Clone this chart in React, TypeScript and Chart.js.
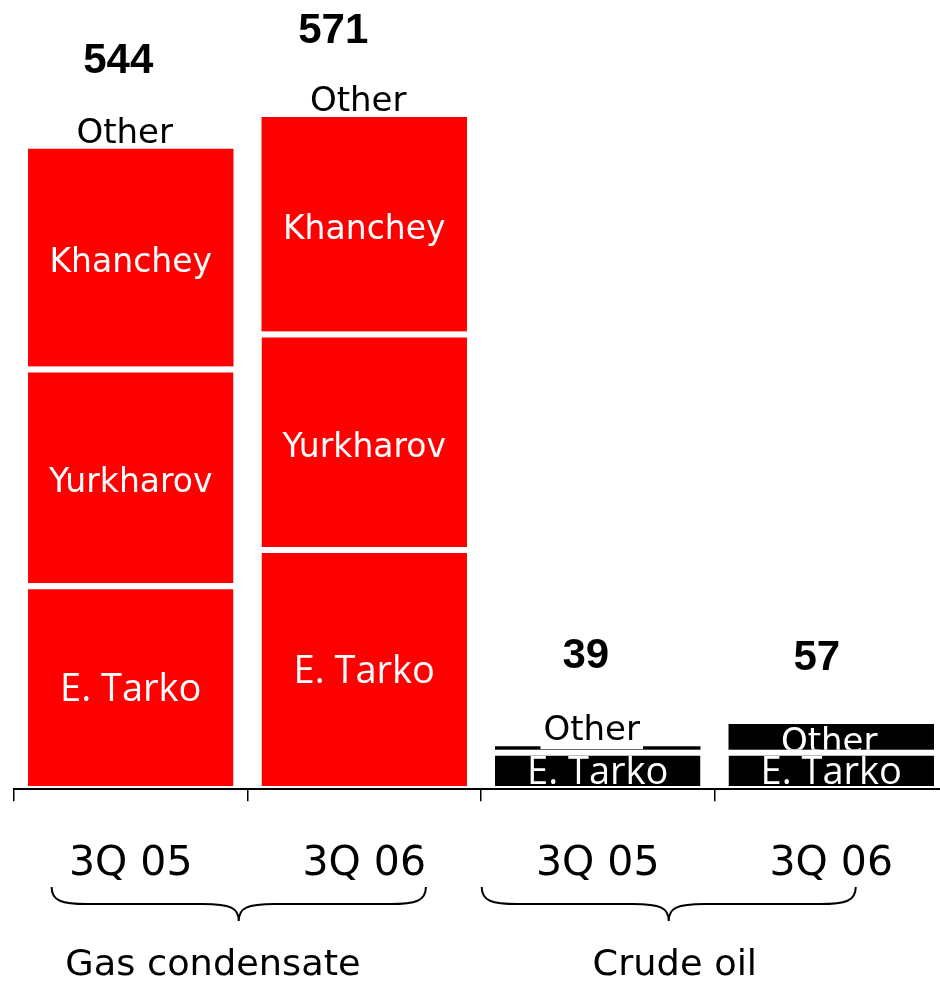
import React, { useEffect, useRef } from 'react';
import { Chart, registerables } from 'chart.js';

Chart.register(...registerables);

// ---------- data ----------
const categories = ['3Q 05', '3Q 06', '3Q 05', '3Q 06'];
const eTarko = [173, 204, 31, 31];
const yurkharov = [185, 184, 0, 0];
const khanchey = [186, 183, 0, 0];
const other = [0, 0, 3, 22];
const totalLabels = ['544', '571', '39', '57'];
const groupLabels = ['Gas condensate', 'Crude oil'];

// ---------- layout / style ----------
const W = 960;
const H = 981;
const RED = '#ff0000';
const BLACK = '#000000';
const barColors = [RED, RED, BLACK, BLACK];

// per-bar offsets of the total labels from the top of each stack (px)
const totalDx = [-12.5, -31, -12, -14.5];
const totalDy = [-76, -74, -78, -54];
// braces spanning groups, in fractional category index
const braceSpan = [
  [-0.339, 1.264],
  [1.503, 3.105],
];
const groupLabelPos = [0.352, 2.33];

const segStyle: Record<string, { font: string; cap: number; dy: number; borderTop: number }> = {
  'E. Tarko': { font: '38px "Open Sans"', cap: 27, dy: 0, borderTop: 6 },
  Yurkharov: { font: '33px "DejaVu Sans"', cap: 24, dy: 2.5, borderTop: 6 },
  Khanchey: { font: '33px "DejaVu Sans"', cap: 24, dy: 2.5, borderTop: 0 },
  Other: { font: '34px "DejaVu Sans"', cap: 24.8, dy: 3, borderTop: 0 },
};

function drawText(
  ctx: CanvasRenderingContext2D,
  text: string,
  x: number,
  y: number,
  font: string,
  color: string,
  scaleX = 1
) {
  ctx.save();
  ctx.font = font;
  ctx.fillStyle = color;
  ctx.textAlign = 'center';
  ctx.textBaseline = 'alphabetic';
  ctx.translate(x, y);
  ctx.scale(scaleX, 1);
  ctx.fillText(text, 0, 0);
  ctx.restore();
}

const labelsPlugin = {
  id: 'customLabels',
  afterDatasetsDraw(chart: any) {
    const ctx: CanvasRenderingContext2D = chart.ctx;
    const nCat = categories.length;
    const stackTop: number[] = new Array(nCat).fill(Infinity);
    const barX: number[] = new Array(nCat).fill(0);

    chart.data.datasets.forEach((ds: any, di: number) => {
      const meta = chart.getDatasetMeta(di);
      const st = segStyle[ds.label];
      meta.data.forEach((el: any, j: number) => {
        const v = ds.data[j];
        const { x, y, base, width } = el.getProps(['x', 'y', 'base', 'width'], true);
        stackTop[j] = Math.min(stackTop[j], y);
        barX[j] = x;
        const isOther = ds.label === 'Other';
        if (!isOther && v <= 0) return;
        const top = y + (v > 0 ? st.borderTop : 0);
        const left = x - width / 2;
        if (isOther && base - y < 15) {
          // label above the (thin) segment
          ctx.save();
          ctx.font = st.font;
          const tw = ctx.measureText('Other').width;
          ctx.restore();
          const baseline = y - 6;
          const lx = x - 6;
          if (v > 0) {
            ctx.save();
            ctx.fillStyle = '#ffffff';
            ctx.fillRect(lx - tw / 2 - 3, baseline - st.cap - 6, tw + 6, y + 3 - (baseline - st.cap - 6));
            ctx.restore();
          }
          drawText(ctx, 'Other', lx, baseline, st.font, BLACK);
        } else {
          ctx.save();
          ctx.beginPath();
          ctx.rect(left, top, width, base - top);
          ctx.clip();
          const cy = (top + base) / 2 + st.cap / 2 + st.dy;
          drawText(ctx, ds.label, x - (isOther ? 2 : 0), cy, st.font, '#ffffff');
          ctx.restore();
        }
      });
    });

    // totals
    for (let j = 0; j < nCat; j++) {
      drawText(
        ctx,
        totalLabels[j],
        barX[j] + totalDx[j],
        stackTop[j] + totalDy[j],
        'bold 42px "Liberation Sans"',
        BLACK
      );
    }
  },
  afterDraw(chart: any) {
    const ctx: CanvasRenderingContext2D = chart.ctx;
    const xs = chart.scales.x;
    const bottom = chart.chartArea.bottom;

    // category labels
    categories.forEach((c, i) => {
      drawText(ctx, c, xs.getPixelForValue(i), bottom + 85.7, '41px "DejaVu Sans"', BLACK);
    });

    // braces
    const topY = bottom + 97.7;
    const midY = bottom + 114.7;
    const tipY = bottom + 131.7;
    ctx.save();
    ctx.strokeStyle = BLACK;
    ctx.lineWidth = 2;
    braceSpan.forEach(([a, b]) => {
      const x0 = xs.getPixelForValue(a);
      const x1 = xs.getPixelForValue(b);
      const xm = (x0 + x1) / 2;
      ctx.beginPath();
      ctx.moveTo(x0, topY);
      ctx.bezierCurveTo(x0, midY - 3, x0 + 10, midY, x0 + 36, midY);
      ctx.lineTo(xm - 36, midY);
      ctx.bezierCurveTo(xm - 8, midY, xm, midY + 4, xm, tipY);
      ctx.bezierCurveTo(xm, midY + 4, xm + 8, midY, xm + 36, midY);
      ctx.lineTo(x1 - 36, midY);
      ctx.bezierCurveTo(x1 - 10, midY, x1, midY - 3, x1, topY);
      ctx.stroke();
    });
    ctx.restore();

    // group labels
    groupLabels.forEach((g, i) => {
      drawText(ctx, g, xs.getPixelForValue(groupLabelPos[i]), bottom + 186, '36px "DejaVu Sans"', BLACK, 1.02);
    });
  },
};

export default function App() {
  const ref = useRef<HTMLCanvasElement | null>(null);

  useEffect(() => {
    if (!ref.current) return;
    const border = { top: 6, bottom: 0, left: 0, right: 0 };
    const chart = new Chart(ref.current, {
      type: 'bar',
      data: {
        labels: categories,
        datasets: [
          { label: 'E. Tarko', data: eTarko, backgroundColor: barColors, borderColor: '#ffffff', borderWidth: border, borderSkipped: false },
          { label: 'Yurkharov', data: yurkharov, backgroundColor: barColors, borderColor: '#ffffff', borderWidth: border, borderSkipped: false },
          { label: 'Khanchey', data: khanchey, backgroundColor: barColors, borderWidth: 0 },
          { label: 'Other', data: other, backgroundColor: barColors, borderWidth: 0 },
        ],
      },
      options: {
        responsive: false,
        animation: false,
        devicePixelRatio: 1,
        layout: { padding: { left: 14, right: 12, top: 0, bottom: 179.7 } },
        datasets: { bar: { categoryPercentage: 1, barPercentage: 0.88 } },
        plugins: {
          legend: { display: false },
          tooltip: { enabled: false },
          title: { display: false },
        },
        scales: {
          x: {
            stacked: true,
            offset: true,
            grid: {
              display: true,
              drawOnChartArea: false,
              drawTicks: true,
              tickLength: 12,
              color: BLACK,
              lineWidth: 1.5,
              offset: true,
            },
            border: { display: true, color: BLACK, width: 2 },
            ticks: { display: false },
          },
          y: {
            stacked: true,
            display: false,
            min: -2.82,
            max: 670.9,
          },
        },
      } as any,
      plugins: [labelsPlugin],
    });
    return () => chart.destroy();
  }, []);

  return (
    <div style={{ position: 'absolute', left: 0, top: 0, width: 940, height: 981, overflow: 'hidden', background: '#fff' }}>
      <canvas ref={ref} width={W} height={H} style={{ display: 'block', width: W, height: H }} />
    </div>
  );
}
